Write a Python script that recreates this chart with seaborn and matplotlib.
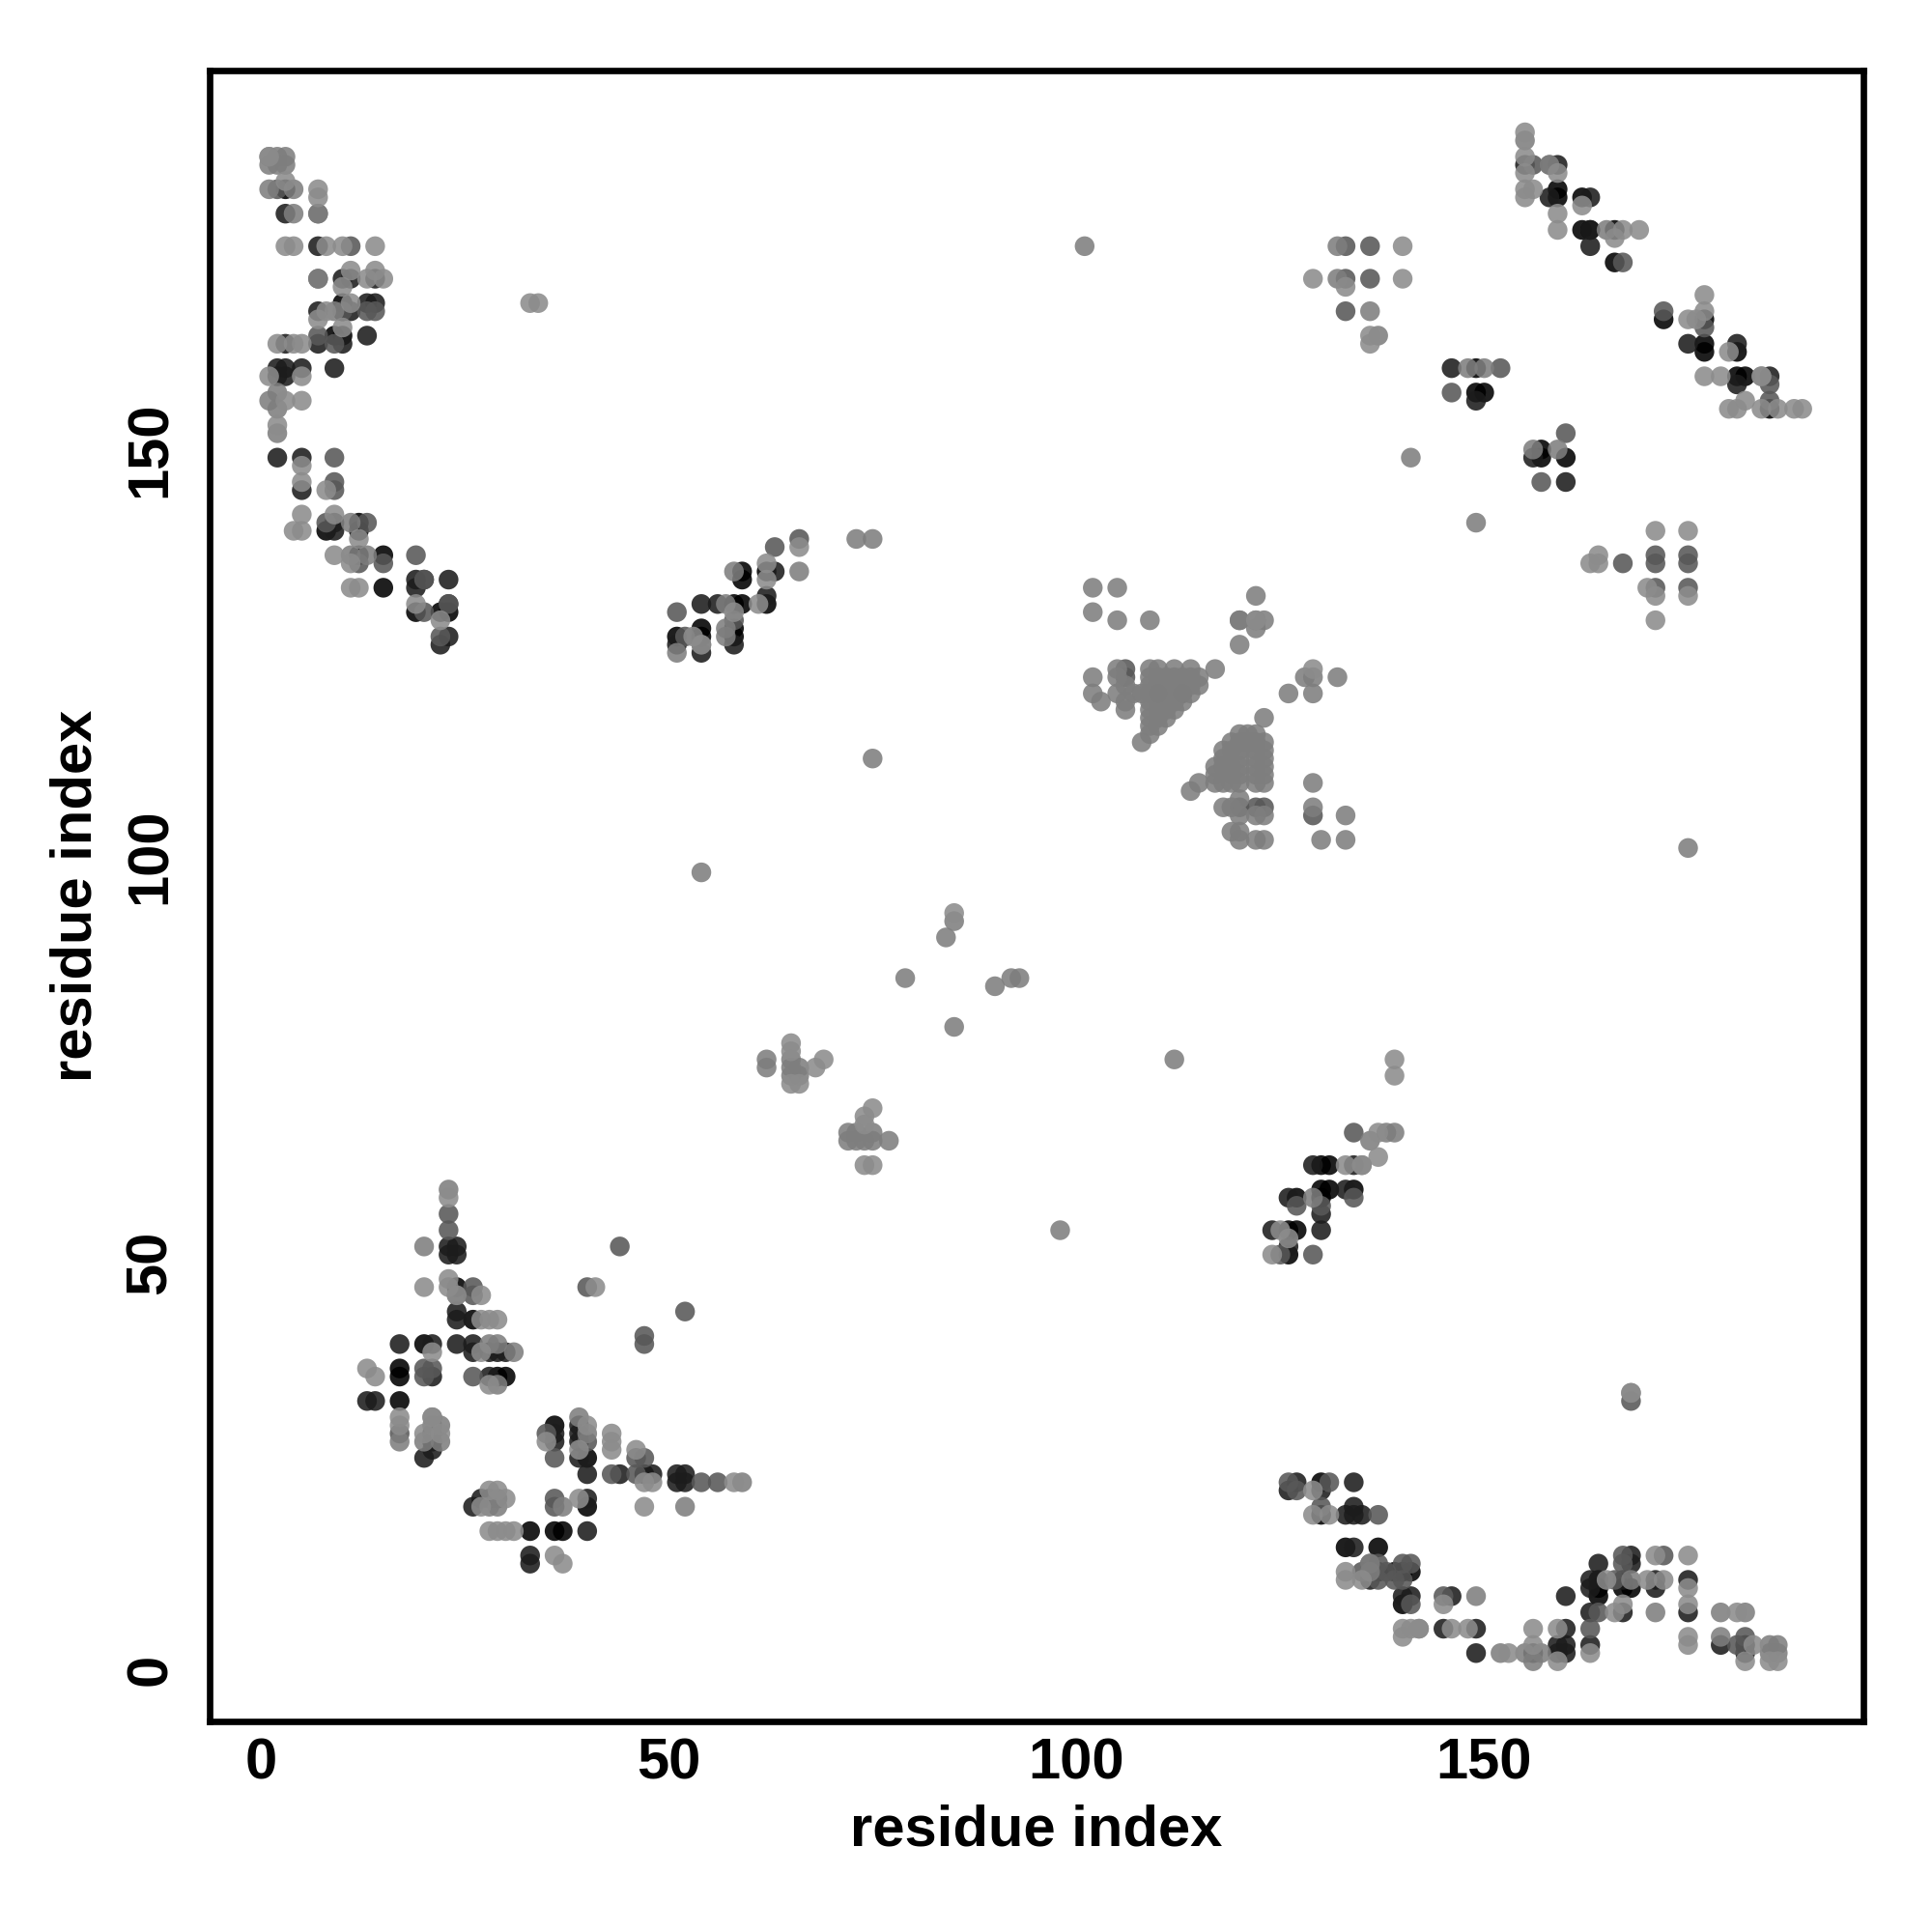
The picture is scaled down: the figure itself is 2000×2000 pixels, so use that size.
import pandas as pd
import matplotlib
matplotlib.use('Agg')
import matplotlib.pyplot as plt
import seaborn as sns

# contacts, one list per grey shade: (residue x, residue y)
black = [(3,182),(10,168),(10,167),(9,164),(10,164),(12,141),(8,140),(12,140),(12,137),(15,137),(15,133),
         (19,130),(22,130),(23,130),(51,127),(54,127),(54,128),(58,127),(58,128),(58,131),(59,131),(59,135),(59,134),
         (62,135),(62,131),(166,177),(162,177),(163,177),(159,182),(159,181),(162,181),(166,173),(172,166),(177,166),(177,163),(177,162),
         (181,162),(181,159),(182,159),(185,155),(149,160),(149,157),(150,157),(157,150),(157,149),(160,149),
         (126,54),(127,54),(126,51),(127,58),(130,59),(134,59),(130,62),(131,62),(130,58),(131,59),
         (24,47),(20,40),(17,37),(17,36),(17,33),(29,36),(30,36),(36,30),(40,26),(47,24),(40,20),(33,17),(36,17),(37,17),(26,43),
         (130,23),(130,19),(133,15),(137,15),(137,12),(139,12),(140,12),(141,12),(140,8),(164,11),(164,10),(167,10),(168,10),(164,9),(182,3)]
dark = [(3,179),(7,175),(10,171),(11,171),(14,171),(13,168),(14,168),(7,167),(11,167),(13,164),(7,163),(3,163),(10,163),
        (2,160),(3,160),(5,160),(9,160),(2,159),(3,159),(2,149),(5,149),(5,145),(9,141),(9,140),(19,134),(20,134),(23,134),(19,133),
        (23,131),(22,126),(23,127),(54,131),(56,131),(63,135),(62,132),(51,126),(54,125),(58,126),
        (155,185),(159,185),(158,181),(163,181),(163,175),(163,177),(175,163),(181,163),(185,159),(181,158),(146,160),(149,156),(156,149),(160,146),
        (133,59),(126,58),(130,56),(130,54),(134,62),(124,54),(126,52),(129,62),
        (23,52),(24,52),(23,51),(24,51),(24,44),(24,43),(17,40),(21,40),(24,40),(26,40),(26,39),(28,39),(29,39),(30,39),
        (13,33),(14,33),(28,36),(21,36),(21,29),(21,28),(21,27),(20,26),(36,29),(36,28),(39,30),(39,29),(39,28),(39,26),(40,24),(44,24),
        (48,24),(51,24),(52,24),(51,23),(52,23),(40,21),(26,20),(27,21),(28,21),(40,17),(33,14),(33,13),
        (127,23),(126,22),(130,22),(134,23),(133,19),(134,19),(135,19),(134,20),(134,15),(140,9),(141,9),(146,9),(145,5),(149,5),(149,2),(136,11),
        (164,13),(168,14),(168,13),(163,11),(167,11),(171,11),(175,11),(163,10),(171,10),(160,9),(163,7),(167,7),(175,7),(160,5),(159,3),(160,3),(163,3),(179,3),(156,2),(159,2),(160,2),(182,2)]
midd = [(2,182),(7,179),(11,175),(7,171),(10,167),(13,167),(14,167),(9,163),(7,164),(9,149),(9,146),(9,145),(8,141),(13,141),
        (19,137),(15,136),(12,136),(20,134),(23,131),(20,130),(22,127),(51,130),(52,127),(54,126),(66,139),(63,138),(58,129),
        (172,167),(156,185),(158,185),(167,173),(177,165),(185,158),(185,156),(152,160),(146,157),(160,152),(157,146),(167,136),(171,137),(171,136),(175,137),(175,136),(171,133),(175,133),
        (134,58),(134,66),(129,51),(125,51),(130,57),(127,57),
        (23,56),(23,54),(26,47),(26,46),(24,46),(40,47),(47,40),(47,41),(52,44),(44,52),(17,29),(20,37),(20,36),(21,37),(26,36),(35,29),(36,26),(40,28),(43,24),
        (46,26),(47,26),(46,24),(54,23),(56,23),(36,21),(36,20),(29,21),(168,33),
        (126,23),(127,22),(130,20),(131,23),(137,19),(136,13),(141,13),(137,13),(140,13),(138,12),(135,12),(137,11),(139,11),(140,11),(145,9),(141,8),
        (166,11),(167,14),(167,13),(172,14),(164,7),(182,4),(181,3),(163,5),(133,175),(136,175),(133,171),(136,171),(133,167),(129,105),(106,123),(106,122),(110,120),(113,120),(120,106),(122,106),(123,106)]
mid = [(1,186),(2,186),(3,186),(1,185),(2,185),(3,185),(1,182),(4,182),(4,179),(7,179),(7,171),(9,167),(1,156),(2,157),(2,155),(2,152),(11,141),(11,137),(13,137),
       (51,125),(57,131),(57,128),(57,127),(58,135),(66,135),(155,188),(158,185),(165,177),(184,159),(150,160),(156,150),(159,150),(149,141),(141,149),(101,175),(148,160),
       (75,112),(175,101),(54,98),(98,54),(112,75),(73,139),(75,139),(139,66),(138,66),(136,65),(135,62),(129,58),
       (23,59),(20,52),(28,40),(29,40),(31,39),(29,35),(21,31),(21,30),(22,30),(17,28),(20,28),(22,28),(37,20),(28,20),(29,20),(39,31),(40,29),(59,23),(52,20),(168,34),
       (136,12),(136,13),(149,9),(142,5),(152,2),(155,2),(157,2),(156,1),(171,7),(179,7),(182,7),(185,3),(186,3),(185,2),(186,2),(179,4),(168,11),(136,167),(137,164),(132,175),(132,171),
       (62,75),(62,74),(65,75),(65,74),(66,74),(66,73),(65,73),(72,66),(72,65),(73,66),(73,65),(74,65),(75,65),(75,66),(77,65),(79,85),(84,90),(85,92),(85,79),(90,84),(92,85),(93,85),
       (102,133),(105,133),(102,130),(105,129),(109,129),(120,129),(122,128),(117,123),(112,123),(109,123),(105,123),(102,122),(106,121),(109,121),(112,121),(114,121),(102,120),(105,120),(107,120),(108,120),(111,120),(103,119),(106,119),(109,119),(110,118),(111,118),(112,118),(106,118),(109,117),(110,117),(111,117),(109,115),(108,114),
       (110,123),(114,123),(105,122),(109,122),(110,122),(111,122),(112,122),(113,122),(114,122),(115,122),(110,121),(111,121),(113,121),(115,121),(109,120),(112,120),(114,120),(110,119),(111,119),(112,119),(113,119),(109,118),(109,116),(110,116),
       (123,117),(120,115),(121,115),(122,115),(119,114),(120,114),(121,114),(122,114),(123,114),(118,113),(119,113),(120,113),(122,113),(123,113),(118,112),(120,112),(122,112),(123,112),(117,111),(118,111),(119,111),(120,111),(122,111),(123,111),(117,110),(119,110),(120,110),(122,110),(123,110),(117,109),(118,109),(119,109),(120,109),(122,109),(123,109),
       (115,109),(114,108),(129,109),(120,107),(118,106),(119,106),(129,106),(120,105),(122,105),(123,105),(133,105),(119,103),(120,103),(120,102),(122,102),(123,102),(130,102),(133,102),(120,126),(122,132),(122,129),(123,129),(120,129),(129,122),(128,122),(129,120),(126,120),(132,122)]
light = [(7,182),(7,181),(3,183),(3,175),(4,175),(8,175),(10,175),(14,175),(11,172),(14,172),(13,171),(15,171),(10,170),(8,167),(7,166),(10,165),(11,168),(4,163),(5,163),(2,163),(1,159),(5,159),(1,186),(3,156),(5,156),(2,153),
         (5,148),(5,146),(8,145),(5,142),(9,142),(4,140),(5,140),(9,137),(12,139),(11,136),(11,133),(12,133),(19,131),(22,129),(66,138),(62,136),(62,134),(53,127),(54,126),(58,130),(61,131),
         (155,189),(155,186),(155,184),(159,184),(155,182),(156,182),(155,181),(159,179),(159,177),(162,180),(166,176),(167,177),(169,177),(177,169),(177,167),(175,166),(176,166),(180,162),(177,159),(179,159),(184,159),(182,156),(180,155),(181,155),(184,155),(186,155),(188,155),(189,155),
         (163,136),(164,136),(164,137),(171,140),(175,140),(170,133),(171,132),(175,132),(171,129),(33,168),(34,168),(140,175),(129,171),(140,171),(133,170),(136,164),(136,163),(139,75),(139,73),(137,66),(137,63),(133,62),(135,62),(125,54),(126,53),(124,51),
         (23,58),(23,48),(23,47),(24,46),(27,46),(20,47),(41,47),(27,43),(28,43),(29,43),(27,39),(21,39),(13,37),(14,36),(17,31),(17,30),(21,31),(22,29),(20,29),(35,28),(28,35),(39,27),(40,30),(43,29),(43,28),(43,27),(46,27),(47,23),(48,23),(58,23),(47,20),(39,21),
         (28,22),(29,22),(30,21),(27,20),(28,17),(29,17),(30,17),(31,17),(36,14),(37,13),(129,22),(129,19),(131,19),(133,12),(133,11),(135,11),(145,8),(140,5),(141,5),(142,5),(140,4),(146,5),(148,5),(153,2),
         (156,5),(159,5),(156,3),(163,2),(159,1),(165,11),(170,11),(172,11),(171,14),(175,14),(175,8),(167,8),(175,10),(166,7),(181,7),(175,4),(175,3),(183,3),(182,1),(185,1),(186,1),(168,34),
         (65,77),(65,76),(69,75),(68,74),(66,72),(65,72),(74,68),(75,69),(74,67),(74,62),(75,62),(85,93),(129,123),(122,129)]

shade_names = ['black', 'dark', 'midd', 'mid', 'light']
shade_colors = {'black': '#000000', 'dark': '#1c1c1c', 'midd': '#585858', 'mid': '#7e7e7e', 'light': '#8c8c8c'}
tick_vals = [0, 50, 100, 150]

rows = []
for name, pts in zip(shade_names, [black, dark, midd, mid, light]):
    for p in pts:
        rows.append({'x': p[0], 'y': p[1], 'shade': name})
df = pd.DataFrame(rows)

sns.set_style('white')
plt.rcParams['font.family'] = ['Liberation Sans', 'DejaVu Sans']

fig = plt.figure(figsize=(10, 10), dpi=200)
ax = fig.add_axes([217 / 2000, 1 - 1782 / 2000, 1712 / 2000, 1709 / 2000])

sns.scatterplot(data=df, x='x', y='y', hue='shade', palette=shade_colors, hue_order=shade_names,
                s=54, linewidth=0, alpha=0.88, legend=False, ax=ax)

ax.set_xlim(-6.3, 196.5)
ax.set_ylim(-6.4, 196.6)
ax.set_xticks(tick_vals)
ax.set_yticks(tick_vals)
ax.tick_params(axis='both', length=3.5, width=2, color='black', labelcolor='black', labelsize=21.5)
ax.tick_params(axis='x', pad=2.5)
ax.tick_params(axis='y', pad=8.5)
for lab in ax.get_xticklabels():
    lab.set_fontweight('bold')
for lab in ax.get_yticklabels():
    lab.set_fontweight('bold')
    lab.set_rotation(90)
    lab.set_va('center')
ax.set_xlabel('residue index', fontsize=21.5, fontweight='bold', color='black', va='center')
ax.set_ylabel('residue index', fontsize=21.5, fontweight='bold', color='black', va='center')
ax.xaxis.set_label_coords(0.5, -0.066)
ax.yaxis.set_label_coords(-0.0805, 0.5)
for side in ax.spines.values():
    side.set_linewidth(2.4)
    side.set_color('black')

fig.savefig('out.png', dpi=200)
